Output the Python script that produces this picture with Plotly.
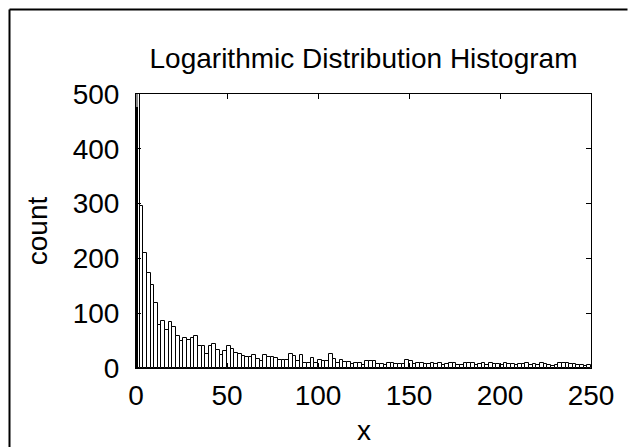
import plotly.graph_objects as go

bin_width = 2
counts = [640, 295, 209, 173, 152, 118, 79, 85, 70, 84, 75, 59, 50, 55, 51, 55, 58, 41, 41, 25,
          41, 44, 33, 24, 31, 41, 35, 28, 25,
          21, 20, 20, 23, 16, 12, 23, 20, 20, 18, 15, 14, 14, 26, 21, 12, 23, 9, 9, 18,
          9, 14, 13, 12, 25, 16, 9, 14, 11, 11, 7, 9, 9, 6, 12, 13, 12, 8, 8, 6,
          10, 9, 7, 8, 8, 14, 12, 8, 9, 9,
          7, 8, 10, 7, 9, 5, 8, 10, 9, 5, 6, 10, 9, 10, 6, 8, 9, 6, 9, 7,
          8, 5, 9, 7, 8, 6, 8, 7, 9, 6, 8, 5, 10, 8, 5, 4, 6, 9, 10, 9, 8, 8, 6, 5, 4, 6]
centers = [bin_width * i + bin_width / 2 for i in range(len(counts))]

# dense overlapping bars near zero (drawn dark)
dense_x = [0.35, 0.35]
dense_y = [500, 476]
dense_colors = ["#888888", "#000000"]

x_ticks = [0, 50, 100, 150, 200, 250]
y_ticks = [0, 100, 200, 300, 400, 500]

fig = go.Figure()
fig.add_trace(go.Bar(x=centers, y=counts, width=bin_width,
                     marker=dict(color="white", line=dict(color="black", width=1)),
                     showlegend=False))
fig.add_trace(go.Bar(x=dense_x, y=dense_y, width=1.5,
                     marker=dict(color=dense_colors, line=dict(width=0)),
                     showlegend=False))

font = "Liberation Sans, Arial, sans-serif"
L, R, T, B = 136, 38, 94, 79
W, H = 629, 447
pw, ph = W - L - R, H - T - B

x_left = (9.5 - L) / pw
x_right = (W - 1.5 - L) / pw
y_top = 1 + (T - 9.5) / ph
y_bottom = -B / ph

fig.update_layout(
    width=W, height=H, barmode="overlay", bargap=0,
    paper_bgcolor="white", plot_bgcolor="white",
    margin=dict(l=L, r=R, t=T, b=B, autoexpand=False),
    font=dict(family=font, size=28, color="black"),
    title=dict(text="Logarithmic Distribution Histogram", x=(L + pw / 2) / W, xanchor="center",
               y=1 - 58 / H, yanchor="middle", font=dict(size=28)),
    xaxis=dict(range=[0, 250], tickvals=x_ticks, ticks="inside", ticklen=5, tickcolor="black",
               showline=True, linecolor="black", linewidth=1, mirror="ticks", showgrid=False,
               zeroline=False, tickfont=dict(size=28), ticklabelstandoff=2, automargin=False),
    yaxis=dict(range=[0, 500], tickvals=y_ticks, ticks="inside", ticklen=5, tickcolor="black",
               showline=True, linecolor="black", linewidth=1, mirror="ticks", showgrid=False,
               zeroline=False, tickfont=dict(size=28), ticklabelstandoff=10, automargin=False,
               title=dict(text="count", standoff=16, font=dict(size=28))),
    annotations=[dict(text="x", xref="paper", yref="paper", x=0.5, y=-(430 - (T + ph)) / ph,
                      xanchor="center", yanchor="middle", showarrow=False, font=dict(size=28))],
    shapes=[
        dict(type="line", xref="paper", yref="paper", x0=x_left, x1=x_left, y0=y_bottom, y1=y_top,
             line=dict(color="black", width=2)),
        dict(type="line", xref="paper", yref="paper", x0=x_left, x1=x_right, y0=y_top, y1=y_top,
             line=dict(color="black", width=2)),
    ],
)

fig.write_html("out.html")
